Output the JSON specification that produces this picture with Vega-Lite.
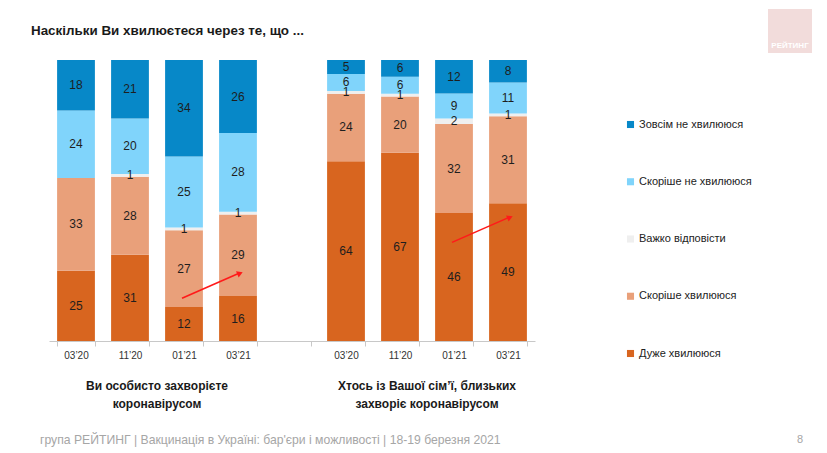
{
  "$schema": "https://vega.github.io/schema/vega-lite/v6.json",
  "width": 486,
  "height": 281,
  "autosize": {"type": "none"},
  "padding": {"left": 49, "top": 60, "right": 292, "bottom": 112},
  "background": "white",
  "config": {"view": {"stroke": null}, "font": "Liberation Sans"},
  "encoding": {
    "x": {
      "field": "key",
      "type": "nominal",
      "sort": null,
      "scale": {
        "domain": ["L 03’20", "L 11’20", "L 01’21", "L 03’21", "gap", "R 03’20", "R 11’20", "R 01’21", "R 03’21"],
        "paddingInner": 0.3,
        "paddingOuter": 0.15
      },
      "axis": {
        "title": null,
        "labelExpr": "(datum.value && datum.value != 'gap') ? substring(datum.value, 2) : ''",
        "labelAngle": 0,
        "tickBand": "extent",
        "domainColor": "#c8c8c8",
        "tickColor": "#c8c8c8",
        "tickSize": 5,
        "labelPadding": 4,
        "labelFontSize": 10,
        "labelColor": "#333333",
        "labelFont": "Liberation Sans"
      }
    }
  },
  "layer": [
    {
      "data": {
        "values": [
          {"key": "L 03’20", "cat": "Дуже хвилююся", "o": 1, "v": 25},
          {"key": "L 03’20", "cat": "Скоріше хвилююся", "o": 2, "v": 33},
          {"key": "L 03’20", "cat": "Скоріше не хвилююся", "o": 4, "v": 24},
          {"key": "L 03’20", "cat": "Зовсім не хвилююся", "o": 5, "v": 18},
          {"key": "L 11’20", "cat": "Дуже хвилююся", "o": 1, "v": 31},
          {"key": "L 11’20", "cat": "Скоріше хвилююся", "o": 2, "v": 28},
          {"key": "L 11’20", "cat": "Важко відповісти", "o": 3, "v": 1},
          {"key": "L 11’20", "cat": "Скоріше не хвилююся", "o": 4, "v": 20},
          {"key": "L 11’20", "cat": "Зовсім не хвилююся", "o": 5, "v": 21},
          {"key": "L 01’21", "cat": "Дуже хвилююся", "o": 1, "v": 12},
          {"key": "L 01’21", "cat": "Скоріше хвилююся", "o": 2, "v": 27},
          {"key": "L 01’21", "cat": "Важко відповісти", "o": 3, "v": 1},
          {"key": "L 01’21", "cat": "Скоріше не хвилююся", "o": 4, "v": 25},
          {"key": "L 01’21", "cat": "Зовсім не хвилююся", "o": 5, "v": 34},
          {"key": "L 03’21", "cat": "Дуже хвилююся", "o": 1, "v": 16},
          {"key": "L 03’21", "cat": "Скоріше хвилююся", "o": 2, "v": 29},
          {"key": "L 03’21", "cat": "Важко відповісти", "o": 3, "v": 1},
          {"key": "L 03’21", "cat": "Скоріше не хвилююся", "o": 4, "v": 28},
          {"key": "L 03’21", "cat": "Зовсім не хвилююся", "o": 5, "v": 26},
          {"key": "R 03’20", "cat": "Дуже хвилююся", "o": 1, "v": 64},
          {"key": "R 03’20", "cat": "Скоріше хвилююся", "o": 2, "v": 24},
          {"key": "R 03’20", "cat": "Важко відповісти", "o": 3, "v": 1},
          {"key": "R 03’20", "cat": "Скоріше не хвилююся", "o": 4, "v": 6},
          {"key": "R 03’20", "cat": "Зовсім не хвилююся", "o": 5, "v": 5},
          {"key": "R 11’20", "cat": "Дуже хвилююся", "o": 1, "v": 67},
          {"key": "R 11’20", "cat": "Скоріше хвилююся", "o": 2, "v": 20},
          {"key": "R 11’20", "cat": "Важко відповісти", "o": 3, "v": 1},
          {"key": "R 11’20", "cat": "Скоріше не хвилююся", "o": 4, "v": 6},
          {"key": "R 11’20", "cat": "Зовсім не хвилююся", "o": 5, "v": 6},
          {"key": "R 01’21", "cat": "Дуже хвилююся", "o": 1, "v": 46},
          {"key": "R 01’21", "cat": "Скоріше хвилююся", "o": 2, "v": 32},
          {"key": "R 01’21", "cat": "Важко відповісти", "o": 3, "v": 2},
          {"key": "R 01’21", "cat": "Скоріше не хвилююся", "o": 4, "v": 9},
          {"key": "R 01’21", "cat": "Зовсім не хвилююся", "o": 5, "v": 12},
          {"key": "R 03’21", "cat": "Дуже хвилююся", "o": 1, "v": 49},
          {"key": "R 03’21", "cat": "Скоріше хвилююся", "o": 2, "v": 31},
          {"key": "R 03’21", "cat": "Важко відповісти", "o": 3, "v": 1},
          {"key": "R 03’21", "cat": "Скоріше не хвилююся", "o": 4, "v": 11},
          {"key": "R 03’21", "cat": "Зовсім не хвилююся", "o": 5, "v": 8}
        ]
      },
      "transform": [
        {"stack": "v", "groupby": ["key"], "sort": [{"field": "o", "order": "ascending"}], "offset": "normalize", "as": ["y0", "y1"]},
        {"calculate": "(datum.y0 + datum.y1) / 2", "as": "mid"}
      ],
      "layer": [
        {
          "mark": {"type": "bar"},
          "encoding": {
            "y": {"field": "y0", "type": "quantitative", "scale": {"domain": [0, 1], "nice": false, "zero": false}, "axis": null},
            "y2": {"field": "y1"},
            "color": {
              "field": "cat",
              "type": "nominal",
              "scale": {
                "domain": ["Зовсім не хвилююся", "Скоріше не хвилююся", "Важко відповісти", "Скоріше хвилююся", "Дуже хвилююся"],
                "range": ["#0788c8", "#80d4fb", "#efefef", "#e9a07a", "#d8651f"]
              },
              "legend": {
                "orient": "none",
                "legendX": 576,
                "legendY": 59,
                "title": null,
                "symbolType": "square",
                "symbolSize": 50,
                "symbolStrokeWidth": 0,
                "labelFontSize": 11,
                "labelColor": "#222222",
                "labelFont": "Liberation Sans",
                "labelOffset": 3,
                "rowPadding": 45.25
              }
            }
          }
        },
        {
          "mark": {"type": "text", "fontSize": 12, "color": "#1e1e1e", "baseline": "middle", "font": "Liberation Sans"},
          "encoding": {
            "y": {"field": "mid", "type": "quantitative"},
            "text": {"field": "v", "type": "quantitative"}
          }
        }
      ]
    },
    {
      "data": {
        "values": [
          {"from": "L 01’21", "to": "L 03’21", "ya": 0.152, "yb": 0.241},
          {"from": "R 01’21", "to": "R 03’21", "ya": 0.351, "yb": 0.44}
        ]
      },
      "layer": [
        {
          "mark": {"type": "rule", "color": "#ff1a1a", "strokeWidth": 1.6, "xOffset": -2, "x2Offset": 1},
          "encoding": {
            "x": {"field": "from", "type": "nominal"},
            "x2": {"field": "to"},
            "y": {"field": "ya", "type": "quantitative"},
            "y2": {"field": "yb"}
          }
        },
        {
          "mark": {"type": "point", "shape": "triangle-right", "filled": true, "color": "#ff1a1a", "size": 45, "angle": 337, "xOffset": 2, "opacity": 1},
          "encoding": {
            "x": {"field": "to", "type": "nominal"},
            "y": {"field": "yb", "type": "quantitative"}
          }
        }
      ]
    },
    {
      "data": {"values": [{"t": "Наскільки Ви хвилюєтеся через те, що ..."}]},
      "mark": {"type": "text", "fontSize": 13.4, "fontWeight": "bold", "color": "#1a1a1a", "align": "left", "baseline": "middle", "xOffset": -45, "font": "Liberation Sans"},
      "encoding": {
        "x": {"datum": "L 03’20"},
        "y": {"datum": 1.103, "type": "quantitative"},
        "text": {"field": "t"}
      }
    },
    {
      "data": {
        "values": [
          {"pos": "L 11’20", "t": "Ви особисто захворієте\nкоронавірусом"},
          {"pos": "R 11’20", "t": "Хтось із Вашої сім’ї, близьких\nзахворіє коронавірусом"}
        ]
      },
      "mark": {"type": "text", "fontSize": 12, "fontWeight": "bold", "color": "#1a1a1a", "lineBreak": "\n", "lineHeight": 18, "baseline": "middle", "xOffset": 27, "font": "Liberation Sans"},
      "encoding": {
        "x": {"field": "pos", "type": "nominal"},
        "y": {"datum": -0.161, "type": "quantitative"},
        "text": {"field": "t"}
      }
    },
    {
      "data": {"values": [{"t": "група РЕЙТИНГ | Вакцинація в Україні: бар'єри і можливості | 18-19 березня 2021"}]},
      "mark": {"type": "text", "fontSize": 12.2, "color": "#a6a6a6", "align": "left", "baseline": "middle", "xOffset": -36, "font": "Liberation Sans"},
      "encoding": {
        "x": {"datum": "L 03’20"},
        "y": {"datum": -0.352, "type": "quantitative"},
        "text": {"field": "t"}
      }
    },
    {
      "data": {"values": [{"t": "8"}]},
      "mark": {"type": "text", "fontSize": 11, "color": "#a6a6a6", "align": "center", "baseline": "middle", "xOffset": 292, "font": "Liberation Sans"},
      "encoding": {
        "x": {"datum": "R 03’21"},
        "y": {"datum": -0.352, "type": "quantitative"},
        "text": {"field": "t"}
      }
    },
    {
      "data": {"values": [{"t": "РЕЙТИНГ"}]},
      "layer": [
        {
          "mark": {"type": "point", "shape": "square", "filled": true, "color": "#f2dcdb", "opacity": 1, "size": 1936, "xOffset": 282},
          "encoding": {
            "x": {"datum": "R 03’21"},
            "y": {"datum": 1.103, "type": "quantitative"}
          }
        },
        {
          "mark": {"type": "text", "fontSize": 8, "fontWeight": "bold", "color": "white", "align": "center", "baseline": "middle", "xOffset": 282, "font": "Liberation Sans"},
          "encoding": {
            "x": {"datum": "R 03’21"},
            "y": {"datum": 1.05, "type": "quantitative"},
            "text": {"field": "t"}
          }
        }
      ]
    }
  ]
}
